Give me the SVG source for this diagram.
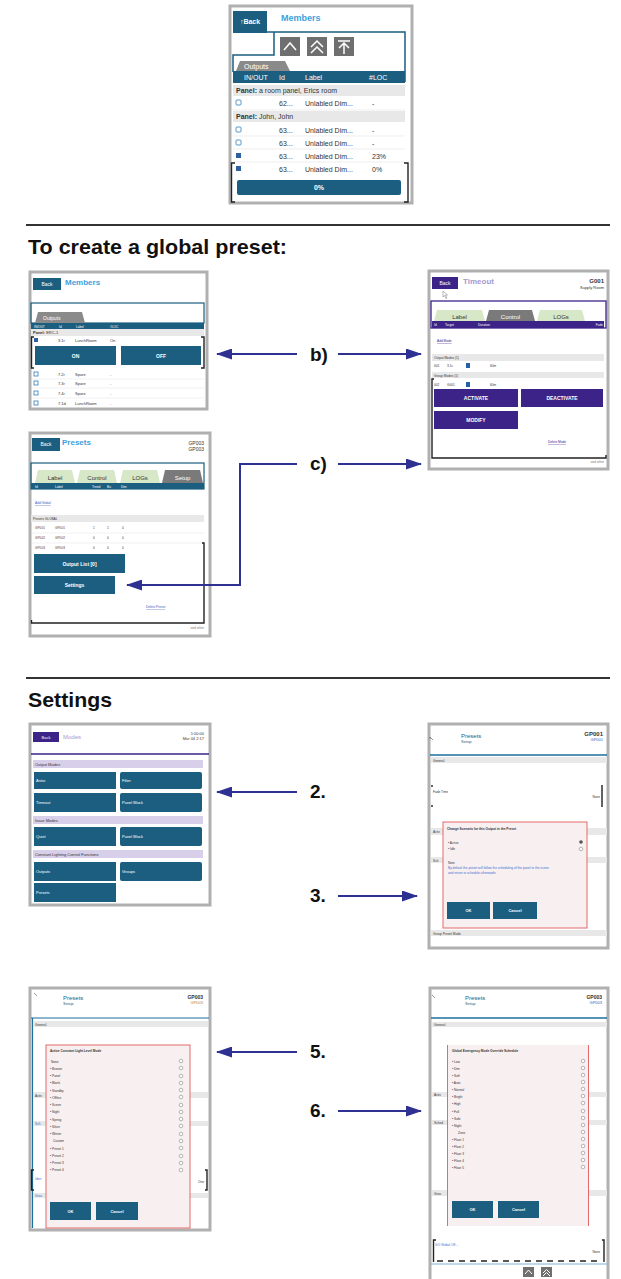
<svg xmlns="http://www.w3.org/2000/svg" width="621" height="1279" viewBox="0 0 621 1279">
<style>
text{font-family:"Liberation Sans",Arial,sans-serif}
.frame{fill:#fff;stroke:#b0b0b0;stroke-width:3}
.teal{fill:#1b5e80}
.purp{fill:#3c2387}
.w{fill:#fff}
.k{fill:#333}
.b{font-weight:bold}
.s3{font-size:3.2px}
.s4{font-size:4px}
.s5{font-size:5px}
.s6{font-size:6px}
.s7{font-size:7px}
.mid{text-anchor:middle}
.end{text-anchor:end}
.gray{fill:#e8e8e8}
.lav{fill:#d8d0ea}
.br{fill:none;stroke:#222;stroke-width:1.4}
.cb{fill:#fff;stroke:#2f7fb8;stroke-width:0.8}
.rad{fill:#fff;stroke:#888;stroke-width:0.6}
.dlg{fill:#f8f0f0;stroke:#e36a6a;stroke-width:1}
.link{fill:#3a5bb5;text-decoration:underline}
.conn{fill:none;stroke:#2e3192;stroke-width:2}
.lbl{font-size:19px;font-weight:bold;fill:#111}
.head{font-size:21px;font-weight:bold;fill:#111}
.icon{fill:#6f6f6f}
.chev{fill:none;stroke:#fff;stroke-width:1.5}
.tabg{fill:#d6e8c8}
.tabd{fill:#7a7a7a}
</style>
<defs>
<marker id="ah" markerUnits="userSpaceOnUse" markerWidth="16" markerHeight="11" refX="15" refY="5.5" orient="auto">
<path d="M0,0 L16,5.5 L0,11 z" fill="#2e3192"/>
</marker>
</defs>
<rect width="621" height="1279" fill="#fff"/>

<!-- headings -->
<g id="headings">
<line x1="26" y1="225" x2="610" y2="225" stroke="#333" stroke-width="2"/>
<text class="head" x="28" y="254" textLength="259" lengthAdjust="spacingAndGlyphs">To create a global preset:</text>
<line x1="26" y1="678" x2="610" y2="678" stroke="#333" stroke-width="2"/>
<text class="head" x="28" y="707" textLength="84" lengthAdjust="spacingAndGlyphs">Settings</text>
</g>

<!-- Top members screenshot -->
<g id="screen-members-top">
<rect class="frame" x="230" y="6" width="182" height="197"/>
<rect class="teal" x="233" y="11" width="34" height="22"/>
<text class="w b s7" x="250" y="24" text-anchor="middle">↑Back</text>
<text class="b" x="281" y="21" font-size="9" fill="#3ea1dc">Members</text>
<path d="M267,32 H405 V82 M274,32 V55 H233 V72" fill="none" stroke="#1b5e80" stroke-width="1.5"/>
<rect class="icon" x="280" y="37" width="20" height="19"/>
<polyline class="chev" points="284,50 290,43 296,50"/>
<rect class="icon" x="307" y="37" width="20" height="19"/>
<polyline class="chev" points="311,47 317,41 323,47"/>
<polyline class="chev" points="311,53 317,47 323,53"/>
<rect class="icon" x="334" y="37" width="20" height="19"/>
<path class="chev" d="M338,41 H350 M344,43 V54 M339,48 L344,43 L349,48"/>
<path d="M236,71 L240,61 H285 L290,71 Z" fill="#8a8a8a"/>
<text class="w s7" x="244" y="69">Outputs</text>
<rect class="teal" x="233" y="71" width="172" height="12"/>
<g class="w s7"><text x="244" y="80">IN/OUT</text><text x="279" y="80">Id</text><text x="305" y="80">Label</text><text x="369" y="80">#LOC</text></g>
<rect class="gray" x="233" y="85" width="172" height="11"/>
<text class="k s7" x="236" y="93"><tspan font-weight="bold">Panel:</tspan> a room panel, Erics room</text>
<rect class="cb" x="236" y="100" width="5" height="5" rx="1"/>
<g class="k s7"><text x="279" y="106">62...</text><text x="305" y="106">Unlabled Dim...</text><text x="372" y="106">-</text></g>
<rect class="gray" x="233" y="111" width="172" height="11"/>
<text class="k s7" x="236" y="119"><tspan font-weight="bold">Panel:</tspan> John, John</text>
<rect class="cb" x="236" y="127" width="5" height="5" rx="1"/>
<rect class="cb" x="236" y="140" width="5" height="5" rx="1"/>
<rect x="236" y="153" width="5" height="5" fill="#2f5f9e"/>
<rect x="236" y="166" width="5" height="5" fill="#2f5f9e"/>
<g class="k s7">
<text x="279" y="133">63...</text><text x="305" y="133">Unlabled Dim...</text><text x="372" y="133">-</text>
<text x="279" y="146">63...</text><text x="305" y="146">Unlabled Dim...</text><text x="372" y="146">-</text>
<text x="279" y="159">63...</text><text x="305" y="159">Unlabled Dim...</text><text x="372" y="159">23%</text>
<text x="279" y="172">63...</text><text x="305" y="172">Unlabled Dim...</text><text x="372" y="172">0%</text>
</g>
<g stroke="#e3e3e3" stroke-width="0.6"><line x1="233" y1="110" x2="405" y2="110"/><line x1="233" y1="136" x2="405" y2="136"/><line x1="233" y1="149" x2="405" y2="149"/><line x1="233" y1="162" x2="405" y2="162"/></g>
<rect class="teal" x="237" y="180" width="164" height="15" rx="2"/>
<text class="w b s7 mid" x="319" y="190">0%</text>
<path class="br" d="M235,163 H231.5 V202 H235 M404,163 H408 V202 H404"/>
</g>

<!-- Members (b) -->
<g id="screen-members-b">
<rect class="frame" x="30" y="272" width="177" height="137"/>
<rect class="teal" x="33" y="278" width="28" height="12"/>
<text class="w s5 mid" x="47" y="286">Back</text>
<text class="b" x="65" y="285" font-size="8" fill="#3ea1dc">Members</text>
<rect x="31" y="303" width="173" height="20" fill="none" stroke="#1b5e80" stroke-width="1.2"/>
<path d="M35,323 L38,312 H82 L85,323 Z" fill="#8a8a8a"/>
<text class="w s5" x="43" y="320">Outputs</text>
<rect class="teal" x="31" y="323" width="173" height="6"/>
<g class="w s3"><text x="34" y="327.5">IN/OUT</text><text x="59" y="327.5">Id</text><text x="76" y="327.5">Label</text><text x="110" y="327.5">#LOC</text></g>
<rect class="gray" x="31" y="329" width="173" height="7"/>
<text class="k s4" x="33" y="334"><tspan font-weight="bold">Panel:</tspan> ERC-1</text>
<rect x="34" y="338" width="4" height="4" fill="#2f5f9e"/>
<g class="k s4"><text x="58" y="342">3.1r</text><text x="75" y="342">LunchRoom</text><text x="110" y="342">On</text></g>
<rect class="teal" x="35" y="346" width="81" height="19"/>
<text class="w b s5 mid" x="75.5" y="357.5">ON</text>
<rect class="teal" x="121" y="346" width="80" height="19"/>
<text class="w b s5 mid" x="161" y="357.5">OFF</text>
<path class="br" d="M34,337 H31.5 V368 H34 M201,337 H204 V368 H201"/>
<g class="k s4">
<rect class="cb" x="34" y="372" width="4" height="4"/><text x="58" y="376">7.2r</text><text x="75" y="376">Spare</text><text x="110" y="376">-</text>
<rect class="cb" x="34" y="381" width="4" height="4"/><text x="58" y="385">7.3r</text><text x="75" y="385">Spare</text><text x="110" y="385">-</text>
<rect class="cb" x="34" y="391" width="4" height="4"/><text x="58" y="395">7.4r</text><text x="75" y="395">Spare</text><text x="110" y="395">-</text>
<rect class="cb" x="34" y="401" width="4" height="4"/><text x="58" y="405">7.1d</text><text x="75" y="405">LunchRoom</text><text x="110" y="405">-</text>
</g>
<g stroke="#e3e3e3" stroke-width="0.5"><line x1="31" y1="379" x2="204" y2="379"/><line x1="31" y1="388" x2="204" y2="388"/><line x1="31" y1="398" x2="204" y2="398"/></g>
</g>

<!-- Timeout screenshot -->
<g id="screen-timeout">
<rect class="frame" x="429" y="271" width="179" height="198"/>
<rect class="purp" x="432" y="277" width="26" height="12"/>
<text class="w s5 mid" x="445" y="285">Back</text>
<text class="b" x="463" y="284" font-size="8" fill="#a799d2">Timeout</text>
<text class="k b s6 end" x="604" y="283">G001</text>
<text class="k s4 end" x="604" y="289">Supply Room</text>
<path d="M443,291 v6 l1.5,-1.5 l1.5,3 l1,-0.5 l-1.5,-3 h2 z" fill="#fff" stroke="#777" stroke-width="0.5"/>
<rect x="431" y="301" width="175" height="27" fill="none" stroke="#3c2387" stroke-width="1.3"/>
<path class="tabg" d="M434,321 L437,310 H482 L485,321 Z"/>
<text class="k s6 mid" x="459.5" y="319">Label</text>
<path class="tabd" d="M486,321 L489,310 H532 L535,321 Z"/>
<text class="w s6 mid" x="510.5" y="319">Control</text>
<path class="tabg" d="M537,321 L540,310 H582 L585,321 Z"/>
<text class="k s6 mid" x="561" y="319">LOGs</text>
<rect class="purp" x="432" y="321" width="172" height="7"/>
<g class="w s3"><text x="434" y="326">Id</text><text x="445" y="326">Target</text><text x="478" y="326">Duration</text><text x="603" y="326" text-anchor="end">Fade</text></g>
<text class="s3" x="437" y="342" fill="#3c2387" text-decoration="underline">Add Mode</text>
<rect class="gray" x="432" y="354" width="172" height="7"/>
<text class="k s3" x="434" y="359">Output Modes (1)</text>
<g class="k s3"><text x="434" y="367">001</text><text x="447" y="367">3.1c</text><text x="490" y="367">60m</text></g>
<rect x="466" y="363" width="4" height="5" fill="#2860a8"/>
<rect class="gray" x="432" y="372" width="172" height="6"/>
<text class="k s3" x="434" y="377">Group Modes (1)</text>
<g class="k s3"><text x="434" y="386">002</text><text x="447" y="386">G001</text><text x="490" y="386">60m</text></g>
<rect x="466" y="382" width="4" height="5" fill="#2860a8"/>
<rect class="purp" x="434" y="389" width="84" height="18"/>
<text class="w b s5 mid" x="476" y="400">ACTIVATE</text>
<rect class="purp" x="521" y="389" width="82" height="18"/>
<text class="w b s5 mid" x="562" y="400">DEACTIVATE</text>
<rect class="purp" x="434" y="411" width="84" height="18"/>
<text class="w b s5 mid" x="476" y="422">MODIFY</text>
<text class="s3" x="548" y="443" fill="#3c2387" text-decoration="underline">Delete Mode</text>
<path class="br" d="M434,379 H432 V458 H606 V455"/>
<text class="s3 end" x="604" y="463" fill="#777">and other</text>
</g>

<!-- Presets screenshot -->
<g id="screen-presets">
<rect class="frame" x="30" y="433" width="180" height="203"/>
<rect class="teal" x="32" y="438" width="28" height="13"/>
<text class="w s5 mid" x="46" y="446">Back</text>
<text class="b" x="62" y="445" font-size="8" fill="#3ea1dc">Presets</text>
<text class="k s5 end" x="204" y="445">GP003</text>
<text class="k s5 end" x="204" y="451">GP003</text>
<rect x="31" y="463" width="173" height="26" fill="none" stroke="#1b5e80" stroke-width="1.2"/>
<path class="tabg" d="M35,483 L38,470 H72 L75,483 Z"/>
<text class="k s6 mid" x="55" y="480">Label</text>
<path class="tabg" d="M77,483 L80,470 H114 L117,483 Z"/>
<text class="k s6 mid" x="97" y="480">Control</text>
<path class="tabg" d="M120,483 L123,470 H157 L160,483 Z"/>
<text class="k s6 mid" x="140" y="480">LOGs</text>
<path class="tabd" d="M162,483 L165,470 H200 L203,483 Z"/>
<text class="w s6 mid" x="182.5" y="480">Setup</text>
<rect class="teal" x="31" y="483" width="173" height="6"/>
<g class="w s3"><text x="35" y="487.5">Id</text><text x="55" y="487.5">Label</text><text x="92" y="487.5">Trend</text><text x="107" y="487.5">Bu</text><text x="121" y="487.5">Dim</text></g>
<text class="link s3" x="35" y="504">Add Global</text>
<rect class="gray" x="31" y="515" width="173" height="7"/>
<text class="k s3" x="33" y="520">Presets GLOBAL</text>
<g class="s3" fill="#5a3030">
<text x="35" y="529">GP001</text><text x="55" y="529">GP001</text><text x="93" y="529">1</text><text x="107" y="529">1</text><text x="122" y="529">0</text>
<text x="35" y="539">GP002</text><text x="55" y="539">GP002</text><text x="93" y="539">0</text><text x="107" y="539">0</text><text x="122" y="539">0</text>
<text x="35" y="549">GP003</text><text x="55" y="549">GP003</text><text x="93" y="549">0</text><text x="107" y="549">0</text><text x="122" y="549">0</text>
</g>
<g stroke="#e3e3e3" stroke-width="0.5"><line x1="31" y1="533" x2="204" y2="533"/><line x1="31" y1="543" x2="204" y2="543"/></g>
<rect class="teal" x="34" y="554" width="91" height="19"/>
<text class="w b s5 mid" x="79.5" y="565.5">Output List [0]</text>
<rect class="teal" x="34" y="576" width="81" height="18"/>
<text class="w b s5 mid" x="74.5" y="587">Settings</text>
<text class="link s3" x="146" y="608">Delete Preset</text>
<path class="br" d="M202,543 H204 V623 H31.5 V620"/>
<text class="s3 end" x="204" y="629" fill="#777">and other</text>
</g>

<!-- Modes screenshot -->
<g id="screen-modes">
<rect class="frame" x="30" y="724" width="180" height="181"/>
<rect class="purp" x="33" y="732" width="26" height="10"/>
<text class="w s4 mid" x="46" y="739">Back</text>
<text class="s6" x="63" y="739" fill="#a799d2">Modes</text>
<text class="k s4 end" x="204" y="735">1:00:00</text>
<text class="k s4 end" x="204" y="740">Mar 04 2:17</text>
<line x1="31" y1="754" x2="209" y2="754" stroke="#3c2387" stroke-width="1.5"/>
<rect class="lav" x="33" y="760" width="170" height="8"/>
<text class="k s4" x="35" y="766">Output Modes</text>
<rect class="teal" x="34" y="772" width="82" height="17"/><text class="w s4" x="36" y="782">Astro</text>
<rect class="teal" x="120" y="772" width="82" height="17" rx="2"/><text class="w s4" x="122" y="782">Filter</text>
<rect class="teal" x="34" y="793" width="82" height="19"/><text class="w s4" x="36" y="804">Timeout</text>
<rect class="teal" x="120" y="793" width="82" height="19" rx="2"/><text class="w s4" x="122" y="804">Panel Block</text>
<rect class="lav" x="33" y="816" width="170" height="8"/>
<text class="k s4" x="35" y="822">Issue Modes</text>
<rect class="teal" x="34" y="827" width="82" height="19"/><text class="w s4" x="36" y="838">Quiet</text>
<rect class="teal" x="120" y="827" width="82" height="19" rx="2"/><text class="w s4" x="122" y="838">Panel Block</text>
<rect class="lav" x="33" y="850" width="170" height="8"/>
<text class="k s4" x="35" y="856">Constant Lighting Control Functions</text>
<rect class="teal" x="34" y="862" width="82" height="19"/><text class="w s4" x="36" y="873">Outputs</text>
<rect class="teal" x="120" y="862" width="82" height="19" rx="2"/><text class="w s4" x="122" y="873">Groups</text>
<rect class="teal" x="34" y="883" width="82" height="19"/><text class="w s4" x="36" y="894">Presets</text>
</g>

<!-- Settings dialog (3) -->
<g id="screen-setup-3">
<rect class="frame" x="429" y="724" width="179" height="224"/>
<path d="M430,737 l3,3 m-3,-3 v2" stroke="#555" stroke-width="0.6" fill="none"/>
<text class="s6" x="461" y="738" fill="#1b5e80">Presets</text>
<text class="s4" x="461" y="743" fill="#1b5e80">Setup</text>
<text class="k b s6 end" x="603" y="736">GP001</text>
<text class="s4 end" x="603" y="741" fill="#3060c0">GP001</text>
<line x1="430" y1="755" x2="607" y2="755" stroke="#1b6e9e" stroke-width="1.5"/>
<rect class="gray" x="431" y="757" width="176" height="6"/>
<text class="k s3" x="433" y="762">General</text>
<text class="k s3" x="433" y="793">Fade Time</text>
<text class="k s3 end" x="600" y="798">None</text>
<path class="br" d="M432,785 V787 M432,805 V807 M602,785 V807" stroke-width="1"/>
<rect class="gray" x="431" y="828" width="176" height="7"/>
<text class="k s3" x="433" y="833">Activ</text>
<rect class="gray" x="431" y="857" width="176" height="6"/>
<text class="k s3" x="433" y="862">Sch</text>
<rect class="gray" x="431" y="930" width="176" height="6"/>
<text class="k s3" x="433" y="935">Group Preset Mode</text>
<rect class="dlg" x="443" y="822" width="144" height="106"/>
<text class="k b s3" x="447" y="830">Change Scenario for this Output in the Preset</text>
<text class="k s3" x="448" y="844">• Active</text>
<text class="k s3" x="448" y="850">• Idle</text>
<circle cx="581" cy="842" r="1.8" fill="#555"/>
<circle class="rad" cx="581" cy="849" r="1.8"/>
<text class="k s3" x="448" y="864">Note</text>
<text class="s3" x="448" y="869" fill="#3a6ed0">By default the preset will follow the scheduling of the panel to the scene</text>
<text class="s3" x="448" y="874" fill="#3a6ed0">and return to schedule afterwards</text>
<rect class="teal" x="447" y="902" width="43" height="17"/>
<text class="w b s4 mid" x="468.5" y="912">OK</text>
<rect class="teal" x="493" y="902" width="44" height="17"/>
<text class="w b s4 mid" x="515" y="912">Cancel</text>
</g>

<!-- Settings dialog (5) -->
<g id="screen-setup-5">
<rect class="frame" x="30" y="988" width="180" height="242"/>
<path d="M34,993 l3,3" stroke="#555" stroke-width="0.6"/>
<text class="s6" x="63" y="1000" fill="#1b5e80">Presets</text>
<text class="s4" x="63" y="1005" fill="#1b5e80">Setup</text>
<text class="k b s5 end" x="203" y="999">GP003</text>
<text class="s4 end" x="203" y="1004" fill="#c08030">GP003</text>
<path d="M31,1018 H209 M32.5,1018 V1228" stroke="#1b6e9e" stroke-width="1.2" fill="none"/>
<rect class="gray" x="33" y="1021" width="175" height="6"/>
<text class="k s3" x="35" y="1026">General</text>
<rect class="gray" x="33" y="1092" width="175" height="6"/>
<text class="k s3" x="35" y="1097">Activ</text>
<rect class="gray" x="33" y="1121" width="175" height="5"/>
<text class="s3" x="35" y="1125" fill="#3a6ed0">Sch</text>
<text class="s3" x="35" y="1180" fill="#3a6ed0">Iden</text>
<text class="k s3 end" x="204" y="1183">One</text>
<path class="br" d="M34,1170 H31.5 V1190 H34 M205,1170 H207 V1190 H205" stroke-width="1"/>
<rect class="gray" x="33" y="1193" width="175" height="5"/>
<text class="s3" x="35" y="1197" fill="#3a6ed0">Grou</text>
<rect class="dlg" x="46" y="1045" width="144" height="183"/>
<text class="k b s3" x="50" y="1052">Active Constant Light Level Mode</text>
<g class="s3" fill="#333">
<text x="51" y="1063">None</text>
<text x="50" y="1070">• Bronze</text>
<text x="50" y="1077">• Panel</text>
<text x="50" y="1084">• Blank</text>
<text x="50" y="1092">• Standby</text>
<text x="50" y="1099">• Offline</text>
<text x="50" y="1106">• Scene</text>
<text x="50" y="1113">• Night</text>
<text x="50" y="1121">• Spring</text>
<text x="50" y="1128">• Silver</text>
<text x="50" y="1135">• Winter</text>
<text x="53" y="1142">Custom</text>
<text x="50" y="1150">• Preset 1</text>
<text x="50" y="1157">• Preset 2</text>
<text x="50" y="1164">• Preset 3</text>
<text x="50" y="1171">• Preset 4</text>
</g>
<g class="rad">
<circle cx="181" cy="1061" r="1.8"/><circle cx="181" cy="1068" r="1.8"/><circle cx="181" cy="1076" r="1.8"/><circle cx="181" cy="1083" r="1.8"/>
<circle cx="181" cy="1090" r="1.8"/><circle cx="181" cy="1097" r="1.8"/><circle cx="181" cy="1105" r="1.8"/><circle cx="181" cy="1112" r="1.8"/>
<circle cx="181" cy="1119" r="1.8"/><circle cx="181" cy="1126" r="1.8"/><circle cx="181" cy="1134" r="1.8"/><circle cx="181" cy="1141" r="1.8"/>
<circle cx="181" cy="1148" r="1.8"/><circle cx="181" cy="1156" r="1.8"/><circle cx="181" cy="1163" r="1.8"/><circle cx="181" cy="1170" r="1.8"/>
</g>
<rect class="teal" x="50" y="1202" width="41" height="18"/>
<text class="w b s4 mid" x="70.5" y="1212.5">OK</text>
<rect class="teal" x="96" y="1202" width="42" height="18"/>
<text class="w b s4 mid" x="117" y="1212.5">Cancel</text>
</g>

<!-- Settings dialog (6) -->
<g id="screen-setup-6">
<rect class="frame" x="430" y="988" width="178" height="296"/>
<path d="M432,995 l3,3" stroke="#555" stroke-width="0.6"/>
<text class="s6" x="465" y="1000" fill="#1b5e80">Presets</text>
<text class="s4" x="465" y="1005" fill="#1b5e80">Setup</text>
<text class="k b s5 end" x="602" y="999">GP003</text>
<text class="s4 end" x="602" y="1004" fill="#3060c0">GP003</text>
<line x1="431" y1="1018" x2="607" y2="1018" stroke="#1b6e9e" stroke-width="1.5"/>
<rect class="gray" x="432" y="1022" width="175" height="5"/>
<text class="k s3" x="434" y="1026">General</text>
<rect class="gray" x="432" y="1092" width="175" height="5"/>
<text class="k s3" x="434" y="1096">Activ</text>
<rect class="gray" x="432" y="1120" width="175" height="5"/>
<text class="k s3" x="434" y="1124">Sched</text>
<rect class="gray" x="432" y="1190" width="175" height="6"/>
<text class="k s3" x="434" y="1195">Grou</text>
<rect x="447" y="1045" width="142" height="181" fill="#f8f0f0"/>
<path d="M447.5,1045 V1226 M588.5,1045 V1226" stroke="#e36a6a" stroke-width="1"/>
<text class="k b s3" x="452" y="1052">Global Emergency Mode Override Schedule</text>
<g class="s3" fill="#333">
<text x="452" y="1063">• Low</text>
<text x="452" y="1070">• Dim</text>
<text x="452" y="1077">• Soft</text>
<text x="452" y="1084">• Auto</text>
<text x="452" y="1091">• Normal</text>
<text x="452" y="1098">• Bright</text>
<text x="452" y="1105">• High</text>
<text x="452" y="1113">• Full</text>
<text x="452" y="1120">• Safe</text>
<text x="452" y="1127">• Night</text>
<text x="458" y="1134">Zone</text>
<text x="452" y="1141">• Floor 1</text>
<text x="452" y="1148">• Floor 2</text>
<text x="452" y="1155">• Floor 3</text>
<text x="452" y="1162">• Floor 4</text>
<text x="452" y="1169">• Floor 5</text>
</g>
<g class="rad">
<circle cx="583" cy="1061" r="1.8"/><circle cx="583" cy="1068" r="1.8"/><circle cx="583" cy="1075" r="1.8"/><circle cx="583" cy="1082" r="1.8"/>
<circle cx="583" cy="1089" r="1.8"/><circle cx="583" cy="1096" r="1.8"/><circle cx="583" cy="1103" r="1.8"/><circle cx="583" cy="1111" r="1.8"/>
<circle cx="583" cy="1118" r="1.8"/><circle cx="583" cy="1125" r="1.8"/><circle cx="583" cy="1132" r="1.8"/><circle cx="583" cy="1139" r="1.8"/>
<circle cx="583" cy="1146" r="1.8"/><circle cx="583" cy="1153" r="1.8"/><circle cx="583" cy="1160" r="1.8"/><circle cx="583" cy="1167" r="1.8"/>
</g>
<rect class="teal" x="452" y="1201" width="41" height="17"/>
<text class="w b s4 mid" x="472.5" y="1211">OK</text>
<rect class="teal" x="498" y="1201" width="41" height="17"/>
<text class="w b s4 mid" x="518.5" y="1211">Cancel</text>
<text class="s3" x="435" y="1246" fill="#3a6ed0">GO Global Off...</text>
<text class="k s3 end" x="600" y="1253">None</text>
<path class="br" d="M436,1240 H433.5 V1262 M602,1240 H604 V1262" stroke-width="1.2"/>
<line x1="437" y1="1261" x2="602" y2="1261" stroke="#222" stroke-width="1.4" stroke-dasharray="6 5"/>
<line x1="431" y1="1264" x2="607" y2="1264" stroke="#7fb0d8" stroke-width="1.2"/>
<rect class="icon" x="523" y="1267" width="11" height="10"/>
<polyline points="525,1274 528.5,1270 532,1274" fill="none" stroke="#fff" stroke-width="1"/>
<rect class="icon" x="541" y="1267" width="11" height="10"/>
<polyline points="543,1273 546.5,1269.5 550,1273" fill="none" stroke="#fff" stroke-width="1"/>
<polyline points="543,1276 546.5,1272.5 550,1276" fill="none" stroke="#fff" stroke-width="1"/>
</g>

<!-- connectors -->
<g id="connectors">
<line class="conn" x1="297" y1="354" x2="217" y2="354" marker-end="url(#ah)"/>
<line class="conn" x1="338" y1="354" x2="421" y2="354" marker-end="url(#ah)"/>
<line class="conn" x1="338" y1="464" x2="421" y2="464" marker-end="url(#ah)"/>
<path class="conn" d="M297,464 H240 V585 H127" marker-end="url(#ah)"/>
<line class="conn" x1="297" y1="792" x2="217" y2="792" marker-end="url(#ah)"/>
<line class="conn" x1="338" y1="896" x2="417" y2="896" marker-end="url(#ah)"/>
<line class="conn" x1="297" y1="1052" x2="217" y2="1052" marker-end="url(#ah)"/>
<line class="conn" x1="338" y1="1111" x2="421" y2="1111" marker-end="url(#ah)"/>
</g>
<g id="labels">
<text class="lbl" x="310" y="361">b)</text>
<text class="lbl" x="310" y="470">c)</text>
<text class="lbl" x="310" y="798">2.</text>
<text class="lbl" x="310" y="902">3.</text>
<text class="lbl" x="310" y="1058">5.</text>
<text class="lbl" x="310" y="1117">6.</text>
</g>
</svg>
